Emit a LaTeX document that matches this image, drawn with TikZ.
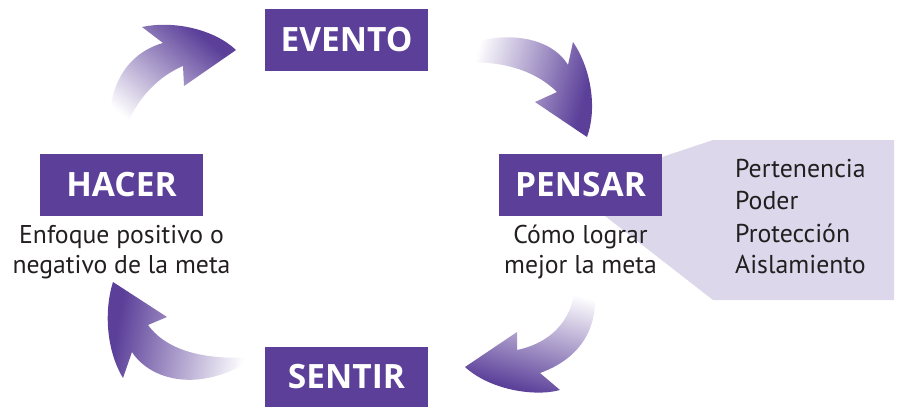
\documentclass[tikz,border=0pt]{standalone}
\usepackage{fontspec}
\setmainfont{PT Sans}
\newfontfamily\titlefont{Open Sans}
\definecolor{ap}{HTML}{5B3F99}
\definecolor{callc}{HTML}{DCD7EB}
\definecolor{txt}{HTML}{231F20}
\pgfdeclarehorizontalshading{fadeA}{100bp}{color(0bp)=(white); color(27bp)=(white); color(72bp)=(ap); color(100bp)=(ap)}
\tikzset{
  titlebox/.style={fill=ap, text=white, minimum width=163pt, minimum height=62pt, inner sep=0pt,
    font=\titlefont\bfseries\fontsize{33.5}{34}\selectfont},
  subtext/.style={anchor=base, inner sep=0pt, text=txt, font=\fontsize{25.7}{30}\selectfont},
  calltext/.style={anchor=base west, inner sep=0pt, text=txt, font=\fontsize{25.8}{32}\selectfont},
  fadearrow/.style={shading=fadeA, draw=none}
}
\begin{document}
\begin{tikzpicture}[x=1pt,y=-1pt]
\useasboundingbox (0,0) rectangle (899,407);
% callout
\coordinate (cpt) at (569,188);
\fill[callc] (cpt) -- (713,140) -- (894,140) -- (894,300) -- (713,300) -- cycle;
% arrow 1 HACER -> EVENTO
\shade[fadearrow, shading angle=50] (113,140) .. controls (103,100) and (120,55) .. (163,43)
  -- (142,27) .. controls (175,20) and (215,30) .. (236,50)
  -- (184,86) -- (183,66) .. controls (150,80) and (128,112) .. (123,140) -- cycle;
% arrow 2 EVENTO -> PENSAR
\shade[fadearrow, shading angle=-15] (462,47) .. controls (500,30) and (550,35) .. (568,65)
  -- (573,42) .. controls (592,70) and (597,110) .. (587,137)
  -- (535,102) -- (557,92) .. controls (535,70) and (500,60) .. (462,63) -- cycle;
% arrow 3 PENSAR -> SENTIR
\shade[fadearrow, shading angle=-105] (593,282) .. controls (600,315) and (590,355) .. (540,373)
  -- (560,390) .. controls (535,397) and (490,390) .. (465,367)
  -- (517,332) -- (517,350) .. controls (555,342) and (575,315) .. (575,282) -- cycle;
% arrow 4 SENTIR -> HACER
\shade[fadearrow, shading angle=170] (256,357) .. controls (215,360) and (170,355) .. (148,325)
  -- (167,317) -- (113,282) .. controls (104,310) and (106,350) .. (123,378)
  -- (132,352) .. controls (150,380) and (200,395) .. (256,357) -- cycle;
% boxes
\node[titlebox] (evento) at (346.5,40) {EVENTO};
\node[titlebox] (hacer) at (121.5,185) {HACER};
\node[titlebox] (pensar) at (580.5,185) {PENSAR};
\node[titlebox, minimum height=60pt] (sentir) at (346.5,377) {SENTIR};
% sub texts
\node[subtext] (h1) at (121.5,243) {Enfoque positivo o};
\node[subtext] (h2) at (121.5,273) {negativo de la meta};
\node[subtext] (p1) at (580.5,243) {Cómo lograr};
\node[subtext] (p2) at (580.5,273) {mejor la meta};
% callout texts
\node[calltext] (c1) at (735,177) {Pertenencia};
\node[calltext] (c2) at (735,209) {Poder};
\node[calltext] (c3) at (735,242) {Protección};
\node[calltext] (c4) at (735,273) {Aislamiento};
\end{tikzpicture}
\end{document}
